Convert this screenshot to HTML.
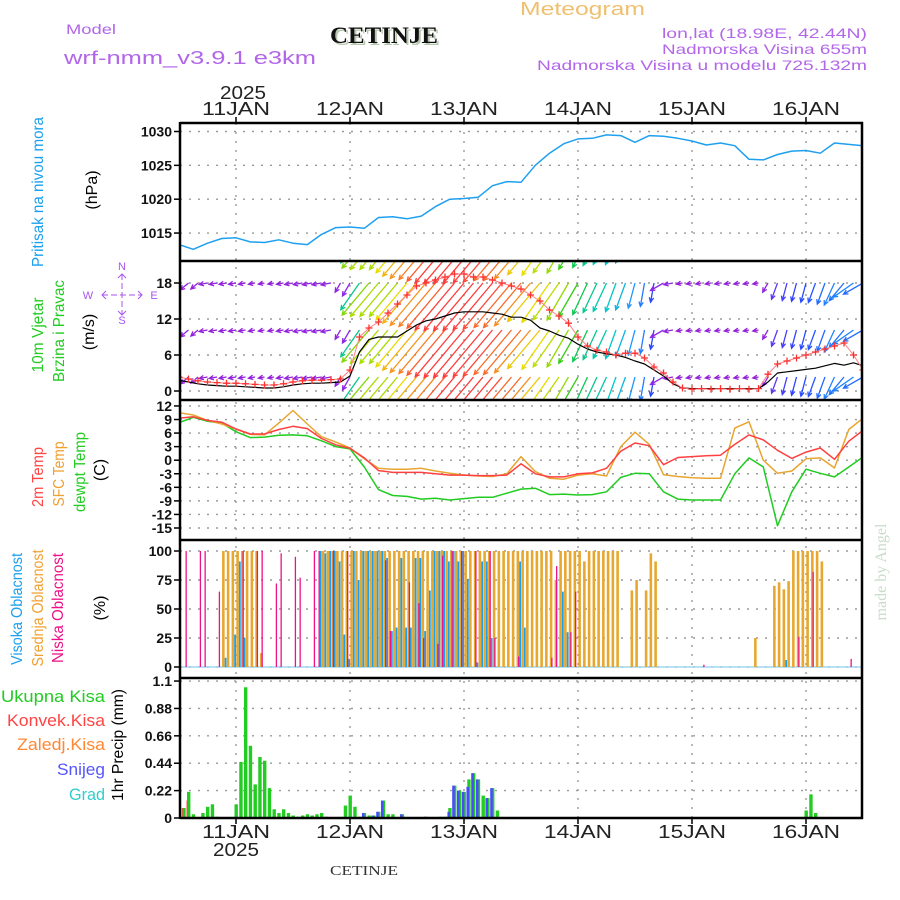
<!DOCTYPE html>
<html><head><meta charset="utf-8"><style>
html,body{margin:0;padding:0;background:#fff}
svg{display:block}
text{font-family:"Liberation Sans",sans-serif}
</style></head><body>
<svg id="chart" width="900" height="900" viewBox="0 0 900 900" xmlns="http://www.w3.org/2000/svg">
<defs>
<clipPath id="cP"><rect x="180" y="123" width="683" height="138"/></clipPath>
<clipPath id="cW"><rect x="180" y="262" width="683" height="138"/></clipPath>
<clipPath id="cT"><rect x="180" y="400" width="683" height="140"/></clipPath>
<clipPath id="cC"><rect x="180" y="540" width="683" height="138"/></clipPath>
<clipPath id="cR"><rect x="180" y="678" width="683" height="140"/></clipPath>
</defs>
<!-- header -->
<text x="66" y="34" font-size="14" fill="#b266e8" textLength="50" lengthAdjust="spacingAndGlyphs">Model</text>
<text x="64" y="64" font-size="18" fill="#b266e8" textLength="252" lengthAdjust="spacingAndGlyphs">wrf-nmm_v3.9.1 e3km</text>
<text x="332" y="45" font-size="23" font-weight="bold" fill="#b8c8b0" style="font-family:'Liberation Serif',serif" textLength="108" lengthAdjust="spacingAndGlyphs">CETINJE</text>
<text x="330" y="43" font-size="23" font-weight="bold" fill="#111" style="font-family:'Liberation Serif',serif" textLength="108" lengthAdjust="spacingAndGlyphs">CETINJE</text>
<text x="520" y="15" font-size="18" fill="#f0c070" textLength="125" lengthAdjust="spacingAndGlyphs">Meteogram</text>
<text x="662" y="38" font-size="14" fill="#b266e8" textLength="205" lengthAdjust="spacingAndGlyphs">lon,lat (18.98E, 42.44N)</text>
<text x="662" y="54" font-size="14" fill="#b266e8" textLength="205" lengthAdjust="spacingAndGlyphs">Nadmorska Visina 655m</text>
<text x="537" y="70" font-size="14" fill="#b266e8" textLength="330" lengthAdjust="spacingAndGlyphs">Nadmorska Visina u modelu 725.132m</text>

<!-- axis titles -->
<g font-size="16">
<text transform="translate(43,192) rotate(-90)" text-anchor="middle" fill="#1aa0ee" textLength="150" lengthAdjust="spacingAndGlyphs">Pritisak na nivou mora</text>
<text transform="translate(97,190) rotate(-90)" text-anchor="middle" fill="#000">(hPa)</text>
<text transform="translate(43,335) rotate(-90)" text-anchor="middle" fill="#22cc22" textLength="75" lengthAdjust="spacingAndGlyphs">10m Vjetar</text>
<text transform="translate(64,331) rotate(-90)" text-anchor="middle" fill="#22cc22" textLength="102" lengthAdjust="spacingAndGlyphs">Brzina i Pravac</text>
<text transform="translate(94,332) rotate(-90)" text-anchor="middle" fill="#000">(m/s)</text>
<text transform="translate(43,477) rotate(-90)" text-anchor="middle" fill="#ff4444" textLength="60" lengthAdjust="spacingAndGlyphs">2m Temp</text>
<text transform="translate(64,474) rotate(-90)" text-anchor="middle" fill="#f0a030" textLength="65" lengthAdjust="spacingAndGlyphs">SFC Temp</text>
<text transform="translate(85,472) rotate(-90)" text-anchor="middle" fill="#22cc22" textLength="80" lengthAdjust="spacingAndGlyphs">dewpt Temp</text>
<text transform="translate(105,470) rotate(-90)" text-anchor="middle" fill="#000">(C)</text>
<text transform="translate(22,609) rotate(-90)" text-anchor="middle" fill="#1aa0ee" textLength="112" lengthAdjust="spacingAndGlyphs">Visoka Oblacnost</text>
<text transform="translate(43,608) rotate(-90)" text-anchor="middle" fill="#f0a030" textLength="117" lengthAdjust="spacingAndGlyphs">Srednja Oblacnost</text>
<text transform="translate(63,608) rotate(-90)" text-anchor="middle" fill="#ee1188" textLength="110" lengthAdjust="spacingAndGlyphs">Niska Oblacnost</text>
<text transform="translate(105,608) rotate(-90)" text-anchor="middle" fill="#000">(%)</text>
<text transform="translate(123,745) rotate(-90)" text-anchor="middle" fill="#000" textLength="112" lengthAdjust="spacingAndGlyphs">1hr Precip (mm)</text>
</g>
<g font-size="17" text-anchor="end">
<text x="105" y="702" fill="#22cc22" textLength="104" lengthAdjust="spacingAndGlyphs">Ukupna Kisa</text>
<text x="105" y="726" fill="#ff4444" textLength="98" lengthAdjust="spacingAndGlyphs">Konvek.Kisa</text>
<text x="105" y="750" fill="#ff8833" textLength="88" lengthAdjust="spacingAndGlyphs">Zaledj.Kisa</text>
<text x="105" y="775" fill="#5555ff" textLength="48" lengthAdjust="spacingAndGlyphs">Snijeg</text>
<text x="105" y="800" fill="#33cccc" textLength="36" lengthAdjust="spacingAndGlyphs">Grad</text>
</g>
<!-- compass -->
<g fill="#aa55ee" stroke="none" font-size="11">
<text x="88" y="299" text-anchor="middle">W</text>
<text x="154" y="299" text-anchor="middle">E</text>
<text x="122" y="270" text-anchor="middle">N</text>
<text x="122" y="324" text-anchor="middle">S</text>
<line x1="102" y1="295" x2="142" y2="295" stroke="#aa55ee" stroke-width="1" stroke-dasharray="6 3"/>
<line x1="122" y1="274" x2="122" y2="315" stroke="#aa55ee" stroke-width="1" stroke-dasharray="6 3"/>
<polyline points="106,291 102,295 106,299" fill="none" stroke="#aa55ee"/>
<polyline points="138,291 142,295 138,299" fill="none" stroke="#aa55ee"/>
<polyline points="118,278 122,274 126,278" fill="none" stroke="#aa55ee"/>
<polyline points="118,311 122,315 126,311" fill="none" stroke="#aa55ee"/>
</g>
<text transform="translate(886,572) rotate(-90)" text-anchor="middle" font-size="16" fill="#c8dcc8" style="font-family:'Liberation Serif',serif">made by Angel</text>
<text x="330" y="875" font-size="14" fill="#333" style="font-family:'Liberation Serif',serif" textLength="68" lengthAdjust="spacingAndGlyphs">CETINJE</text>

<g id="grid"></g>
<g id="marks"></g>
<g id="frame"></g>
<g id="labels"></g>
</svg>
<script>
// ---- time axis (hourly index from 10 Jan 12 UTC) ----
const dayLabels = ["11JAN","12JAN","13JAN","14JAN","15JAN","16JAN"];
const dayHours = [12,36,60,84,108,132];
const yearLabel = "2025";
// ---- pressure (3-hourly) ----
const pressure = [1013.3,1012.6,1013.5,1014.2,1014.3,1013.7,1013.6,1014.0,1013.5,1013.3,1014.8,1015.8,1015.9,1015.7,1017.3,1017.4,1017.1,1017.5,1018.9,1020.0,1020.1,1020.3,1022.0,1022.6,1022.5,1025.0,1026.8,1028.2,1028.9,1029.0,1029.5,1029.4,1028.4,1029.4,1029.3,1029.0,1028.6,1028.0,1028.3,1027.9,1025.9,1025.8,1026.6,1027.1,1027.2,1026.8,1028.3,1028.1,1027.9];
const pressureTicks = [1015,1020,1025,1030];
// ---- wind (2-hourly) ----
const windSpeed = [1.8,1.5,1.2,1.0,0.9,0.8,0.8,0.7,0.6,0.5,0.5,0.7,1.0,1.2,1.3,1.3,1.4,1.5,2.5,6.5,8.6,9.0,9.0,9.0,10,11,11.7,12,12.5,13,13.2,13.2,13.2,13,12.8,12.3,12.3,11.8,10.5,10,9.3,8.8,7.8,7,6.5,6.2,6,5.6,5,4.5,3.5,2.5,1.2,0.5,0.4,0.4,0.4,0.4,0.4,0.4,0.4,0.4,1.5,3,3.2,3.4,3.6,3.8,4.2,4.6,4.3,4.7,4.2];
const windGust = [2.3,2.0,1.7,1.5,1.4,1.3,1.3,1.2,1.1,1.0,1.0,1.2,1.5,1.7,1.8,1.8,1.9,2.0,3.5,9,10.5,11.5,13,14.5,16,17.5,18,18.5,19,19.5,19.5,19,19,18.5,18,17.5,17,16,15,13.5,12.5,11.3,9,7.5,6.8,6.5,6,6.3,6.3,5.5,4,3,1.5,0.5,0.3,0.4,0.3,0.4,0.3,0.4,0.3,0.4,2.8,4.5,5,5.5,6,6.5,7,7.5,8,6,3.5];
const windDir = [50,50,50,80,80,80,80,80,80,80,80,80,80,80,80,80,80,30,30,35,40,40,40,40,40,40,40,40,40,40,40,40,40,40,40,40,40,40,40,35,35,30,30,25,25,25,20,20,15,10,10,60,80,80,80,80,80,80,80,80,80,80,30,20,15,15,15,20,20,25,40,55,60];
const windTicks = [0,6,12,18];
// ---- temperature (3-hourly) ----
const temp2m = [9.3,9.6,8.8,8.4,6.9,5.8,5.8,6.8,7.5,7.0,4.8,3.4,2.6,0.5,-2.3,-2.7,-2.7,-2.7,-3.0,-3.3,-3.3,-3.4,-3.4,-3.3,-0.8,-3.0,-3.7,-3.7,-3.0,-2.8,-1.8,2.0,3.8,3.2,-1.0,0.6,0.8,1.0,1.1,3.5,5.6,4.5,2.2,0.4,1.8,2.7,0.2,4.2,6.6];
const tempSfc = [10.5,10.0,8.8,8.0,6.9,5.7,5.6,8.2,11.0,8.0,5.2,4.0,2.7,0.3,-1.8,-2.0,-2.0,-1.8,-2.4,-2.9,-3.3,-3.5,-3.6,-3.0,0.8,-2.5,-4.0,-4.2,-3.3,-3.0,-3.5,3.0,6.2,3.5,-3.2,-3.6,-3.9,-4.0,-4.0,7.1,8.5,0.0,-2.9,-2.4,0.3,0.5,-1.7,6.8,9.3];
const tempDew = [8.3,9.5,8.6,8.2,6.3,5.0,5.1,5.5,5.6,5.4,4.3,3.0,2.5,-1.5,-6.5,-7.8,-8.0,-8.6,-8.4,-8.8,-8.5,-8.2,-8.2,-7.3,-6.4,-6.2,-7.6,-7.5,-7.7,-7.6,-7.0,-3.8,-2.9,-3.0,-7.0,-8.6,-8.8,-8.8,-8.8,-3.0,0.5,-1.5,-14.5,-7.0,-2.0,-2.9,-3.7,-1.5,0.7];
const tempTicks = [-15,-12,-9,-6,-3,0,3,6,9,12];
// ---- clouds (hourly, %) ----
const cloudHigh = [
0,0,0,0,0,0,0,0,0,0,8,0,
28,91,25,0,0,0,0,0,0,0,0,0,
0,0,0,0,0,0,100,98,100,100,91,28,
7,100,75,100,100,100,100,100,94,31,34,94,
34,34,94,94,31,66,100,100,100,91,100,91,
100,76,0,4,91,91,25,0,0,0,0,0,
91,34,0,0,0,0,0,0,0,65,30,0,
0,0,0,0,0,0,0,0,0,0,0,0,
0,0,0,0,0,0,0,0,0,0,0,0,
0,0,0,0,0,0,0,0,0,0,0,0,
0,0,0,0,0,0,0,0,6,0,0,0,
0,0,0,0,0,0,0,0,0,0,0,0,
0];
const cloudMid = [
0,0,0,0,0,0,0,0,0,100,100,100,
100,100,100,100,100,12,0,0,0,0,0,0,
0,0,0,0,0,0,100,100,100,100,100,100,
100,100,100,100,100,100,100,100,100,100,100,100,
100,100,100,100,100,100,100,100,100,100,100,100,
100,100,100,100,100,100,100,100,100,100,100,100,
100,100,100,100,100,100,100,75,100,100,100,100,
100,91,100,100,100,100,100,100,100,0,0,66,
75,0,66,98,91,0,0,0,0,0,0,0,
0,0,0,0,0,0,0,0,0,0,0,0,
0,25,0,0,0,70,73,67,74,100,100,100,
100,100,100,91,0,0,0,0,0,0,0,0,
0];
const cloudLow = [
0,0,100,0,0,100,100,0,0,65,0,0,
0,0,100,0,0,100,100,0,0,72,98,0,
0,95,77,0,0,100,100,0,0,100,0,0,
100,0,0,0,0,0,0,0,92,31,0,0,
0,73,0,55,25,0,0,20,96,0,100,0,
100,0,0,100,0,0,100,25,0,0,0,0,
9,0,0,0,0,0,0,8,87,0,0,30,
65,0,0,0,0,0,0,0,0,0,0,0,
0,0,0,0,0,0,0,0,0,0,0,0,
0,0,0,2,0,0,0,0,0,0,0,0,
0,0,0,0,0,0,0,0,0,0,0,26,
0,0,82,0,0,0,0,0,0,0,7,0,
0];
const cloudTicks = [0,25,50,75,100];
// ---- precipitation (hourly, mm) ----
const precipTotal = [
0,0.08,0.21,0.03,0,0.04,0.09,0.11,0.01,0,0,0,
0.11,0.45,1.05,0.58,0.27,0.49,0.46,0.24,0.07,0.04,0.07,0.04,
0.02,0.01,0.02,0.03,0.02,0.03,0.04,0.01,0,0,0,0.1,
0.18,0.09,0.01,0.04,0.02,0.02,0.05,0.14,0.03,0.03,0,0.03,
0,0,0,0,0.01,0,0,0.01,0.01,0.08,0.26,0.22,
0.21,0.31,0.36,0.31,0.18,0.16,0.24,0.06,0,0,0,0,
0,0,0,0,0,0,0,0,0,0,0,0,
0,0,0,0,0,0,0,0,0,0,0,0,
0,0,0,0,0,0,0,0,0,0,0,0,
0,0,0,0,0,0,0,0,0,0,0,0,
0,0,0,0,0,0,0,0,0,0,0,0,
0.06,0.19,0.04,0,0,0,0,0,0,0,0,0,
0];
const precipSnow = [
0,0,0,0,0,0,0,0,0,0,0,0,
0,0,0,0,0,0,0,0,0,0,0,0,
0,0,0,0,0,0,0,0,0,0,0,0,
0,0,0,0.04,0,0.02,0.05,0.14,0,0,0,0.03,
0,0,0,0,0.01,0,0,0,0,0.05,0.26,0.22,
0.21,0.25,0.36,0.31,0,0.16,0.24,0,0,0,0,0,
0,0,0,0,0,0,0,0,0,0,0,0,
0,0,0,0,0,0,0,0,0,0,0,0,
0,0,0,0,0,0,0,0,0,0,0,0,
0,0,0,0,0,0,0,0,0,0,0,0,
0,0,0,0,0,0,0,0,0,0,0,0,
0,0,0,0,0,0,0,0,0,0,0,0,
0];
const precipConv = [0,0.08,0.14];
const precipTickLabels = ["0","0.22","0.44","0.66","0.88","1.1"];
const precipTicks = [0,0.22,0.44,0.66,0.88,1.1];

const NS="http://www.w3.org/2000/svg";
const X0=179, PXH=114/24;
const xH = h => X0 + PXH*h;
const yP = p => 131.5 + (1030-p)*6.77;
const yW = s => 391 - 6*s;
const yT = t => 460.2 - 4.52*t;
const yC = c => 667 - 1.16*c;
const yR = r => 818 - 124.5*r;
const L=180, R=862;
const gGrid=document.getElementById('grid'), gMarks=document.getElementById('marks'), gFrame=document.getElementById('frame'), gLab=document.getElementById('labels');
function mk(tag, attrs, parent){const e=document.createElementNS(NS,tag);for(const k in attrs)e.setAttribute(k,attrs[k]);parent.appendChild(e);return e;}
function group(clip,parent){const g=mk('g',{'clip-path':'url(#'+clip+')'},parent);return g;}
const dot={stroke:'#9a9a9a','stroke-width':1.4,'stroke-dasharray':'2 7'};

const panels=[[123,261],[261,400],[400,540],[540,678],[678,818]];
dayHours.forEach((h,i)=>{
  const ln=mk('line',Object.assign({x1:xH(h),x2:xH(h),y1:123,y2:818},dot),gGrid);
  
  
  mk('line',{x1:xH(h),x2:xH(h),y1:117,y2:123,stroke:'#000','stroke-width':1.5},gFrame);
  mk('line',{x1:xH(h),x2:xH(h),y1:818,y2:824,stroke:'#000','stroke-width':1.5},gFrame);
  const a=mk('text',{x:xH(h),y:115,'text-anchor':'middle','font-size':18,fill:'#222',textLength:68,lengthAdjust:'spacingAndGlyphs'},gLab);
  a.textContent=dayLabels[i];
  
  
  const b=mk('text',{x:xH(h),y:838,'text-anchor':'middle','font-size':18,fill:'#222',textLength:68,lengthAdjust:'spacingAndGlyphs'},gLab);
  b.textContent=dayLabels[i];
  
  
});
{const a=mk('text',{x:xH(dayHours[0])+7,y:99,'text-anchor':'middle','font-size':18,fill:'#222',textLength:46,lengthAdjust:'spacingAndGlyphs'},gLab);a.textContent=yearLabel;


const b=mk('text',{x:xH(dayHours[0]),y:856,'text-anchor':'middle','font-size':18,fill:'#222',textLength:46,lengthAdjust:'spacingAndGlyphs'},gLab);b.textContent=yearLabel;

}

function yAxis(ticks,labels,yf,name){
  ticks.forEach((v,i)=>{
    const y=yf(v);
    const g=mk('line',Object.assign({x1:L,x2:R,y1:y,y2:y},dot),gGrid);
    
    
    mk('line',{x1:L-6,x2:L,y1:y,y2:y,stroke:'#000','stroke-width':1.5},gFrame);
    const t=mk('text',{x:L-8,y:y+5,'text-anchor':'end','font-size':14,'font-weight':'bold',fill:'#111'},gLab);
    t.textContent=labels[i];
    
    
  });
}
yAxis(pressureTicks,pressureTicks.map(String),yP,'pressure');
yAxis(windTicks,windTicks.map(String),yW,'wind');
yAxis(tempTicks,tempTicks.map(String),yT,'temp');
yAxis(cloudTicks,cloudTicks.map(String),yC,'cloud');
yAxis(precipTicks,precipTickLabels,yR,'precip');

panels.forEach(p=>{mk('line',{x1:L,x2:R+1,y1:p[0],y2:p[0],stroke:'#000','stroke-width':2.5},gFrame);});
mk('line',{x1:L,x2:R+1,y1:818,y2:818,stroke:'#000','stroke-width':2.5},gFrame);
mk('line',{x1:L,x2:L,y1:122,y2:819,stroke:'#000','stroke-width':2.5},gFrame);
mk('line',{x1:R,x2:R,y1:122,y2:819,stroke:'#000','stroke-width':2.5},gFrame);

function line(arr,step,yf,color,clip,name,w){
  const g=group(clip,gMarks);
  const pts=arr.map((v,i)=>xH(i*step).toFixed(1)+','+yf(v).toFixed(1)).join(' ');
  const pl=mk('polyline',{points:pts,fill:'none',stroke:color,'stroke-width':w||1.5,'stroke-linejoin':'round'},g);
  
  
  return g;
}
line(pressure,3,yP,'#1ea0f0','cP','pressure-line');

function spdColor(s){
  const st=[[0,[150,30,215]],[2.5,[140,40,230]],[3.5,[40,70,255]],[5,[30,150,255]],[6,[0,200,200]],[7.5,[20,200,20]],[9,[170,220,0]],[10,[232,220,0]],[11.5,[245,160,20]],[13,[255,60,60]]];
  if(s<=st[0][0])return 'rgb('+st[0][1]+')';
  for(let i=1;i<st.length;i++){if(s<=st[i][0]){const a=st[i-1],b=st[i],f=(s-a[0])/(b[0]-a[0]);return 'rgb('+a[1].map((c,j)=>Math.round(c+(b[1][j]-c)*f)).join(',')+')';}}
  return 'rgb('+st[st.length-1][1]+')';
}
const rows=[236,283,330,377];
const gW=group('cW',gMarks);
windSpeed.forEach((s,i)=>{
  const x=xH(i*2), d=windDir[i]*Math.PI/180, len=4+4.4*s;
  const dx=-Math.sin(d)*len, dy=Math.cos(d)*len, col=spdColor(s);
  rows.forEach(ry=>{
    const hx=x+dx, hy=ry+dy, ang=Math.atan2(dy,dx);
    const a=mk('path',{d:`M${x.toFixed(1)},${ry} L${hx.toFixed(1)},${hy.toFixed(1)} M${(hx-5*Math.cos(ang-0.45)).toFixed(1)},${(hy-5*Math.sin(ang-0.45)).toFixed(1)} L${hx.toFixed(1)},${hy.toFixed(1)} L${(hx-5*Math.cos(ang+0.45)).toFixed(1)},${(hy-5*Math.sin(ang+0.45)).toFixed(1)}`,stroke:col,'stroke-width':1.3,fill:'none'},gW);
    
    
  });
});
line(windSpeed,2,yW,'#000','cW','wind-speed-line',1.2);
{const g=line(windGust,2,yW,'#ff8080','cW','wind-gust-line',1);
windGust.forEach((v,i)=>{const x=xH(i*2),y=yW(v);
  const p=mk('path',{d:`M${x-3.5},${y} h7 M${x},${y-3.5} v7`,stroke:'#ff3030','stroke-width':1.3},g);
  
  });}

line(tempDew,3,yT,'#20cc20','cT','dewpoint-line');
line(tempSfc,3,yT,'#e8a530','cT','sfc-temp-line');
line(temp2m,3,yT,'#ff4040','cT','temp-2m-line');

const gC=group('cC',gMarks);
mk('line',{x1:L,x2:R,y1:667,y2:667,stroke:'#9fd8f0','stroke-width':1.5},gC);
cloudMid.forEach((v,h)=>{if(v>0){const r=mk('rect',{x:xH(h)+0.3,y:yC(v),width:2.6,height:667-yC(v),fill:'#e8a830'},gC);

}});
cloudHigh.forEach((v,h)=>{if(v>0){const r=mk('rect',{x:xH(h)-1.8,y:yC(v),width:1.8,height:667-yC(v),fill:'#1aa0ee'},gC);

}});
cloudLow.forEach((v,h)=>{if(v>0){const r=mk('rect',{x:xH(h)-3,y:yC(v),width:1.3,height:667-yC(v),fill:'#ee1188'},gC);

}});

const gR=group('cR',gMarks);
precipTotal.forEach((v,h)=>{if(v>0){const r=mk('rect',{x:xH(h)-1.5,y:yR(v),width:3.4,height:818-yR(v),fill:'#22cc22'},gR);

}});
precipSnow.forEach((v,h)=>{if(v>0){const r=mk('rect',{x:xH(h)-2.3,y:yR(v),width:2.6,height:818-yR(v),fill:'#4a4aff'},gR);

}});
precipConv.forEach((v,h)=>{if(v>0){const r=mk('rect',{x:xH(h)-2,y:yR(v),width:1,height:818-yR(v),fill:'#ff4444'},gR);

}});
</script>
</body></html>
